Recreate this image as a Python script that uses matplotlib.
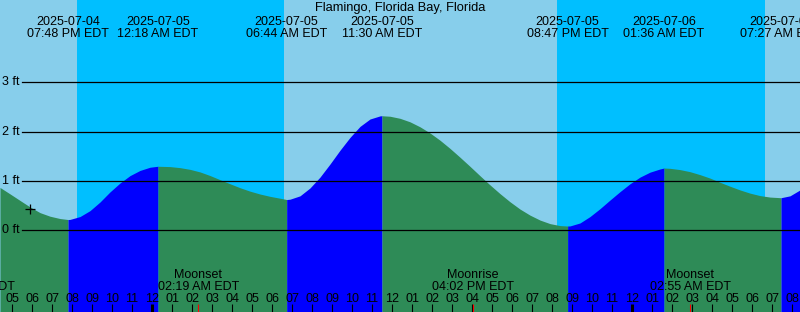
import numpy as np
import matplotlib
matplotlib.use('Agg')
import matplotlib.pyplot as plt
import matplotlib.transforms as mtransforms

# all hours counted from midnight 2025-07-05 (EDT)
station = 'Flamingo, Florida Bay, Florida'

# water level (ft), roughly every half hour
curve_hours = [-7.6, -7.1, -6.6, -6.1, -5.6, -5.1, -4.6, -4.2,
               -4.1, -3.6, -3.1, -2.6, -2.1, -1.6, -1.1, -0.6, -0.1, 0.3,
               0.9, 1.4, 1.9, 2.4, 2.9, 3.4, 3.9, 4.4, 4.9, 5.4, 5.9, 6.4, 6.733,
               6.9, 7.4, 7.9, 8.4, 8.9, 9.4, 9.9, 10.4, 10.9, 11.4, 11.5,
               11.9, 12.4, 12.9, 13.4, 13.9, 14.4, 14.9, 15.4, 15.9, 16.4, 16.9, 17.4, 17.9,
               18.4, 18.9, 19.4, 19.9, 20.4, 20.783,
               20.9, 21.4, 21.9, 22.4, 22.9, 23.4, 23.9, 24.4, 24.9, 25.4, 25.6,
               25.9, 26.4, 26.9, 27.4, 27.9, 28.4, 28.9, 29.4, 29.9, 30.4, 30.9, 31.45,
               31.9, 32.4]
curve_ft = [0.87, 0.74, 0.607, 0.475, 0.36, 0.287, 0.24, 0.22,
            0.222, 0.28, 0.40, 0.575, 0.78, 0.96, 1.11, 1.215, 1.28, 1.30,
            1.293, 1.272, 1.237, 1.185, 1.112, 1.028, 0.945, 0.865, 0.795, 0.737, 0.69, 0.652, 0.625,
            0.632, 0.70, 0.86, 1.08, 1.345, 1.625, 1.885, 2.108, 2.258, 2.321, 2.324,
            2.314, 2.272, 2.201, 2.10, 1.975, 1.828, 1.662, 1.483, 1.298, 1.108, 0.922, 0.745, 0.58,
            0.432, 0.309, 0.209, 0.137, 0.097, 0.088,
            0.09, 0.15, 0.28, 0.44, 0.615, 0.785, 0.945, 1.08, 1.18, 1.245, 1.264,
            1.258, 1.232, 1.19, 1.13, 1.06, 0.975, 0.895, 0.82, 0.755, 0.705, 0.675, 0.662,
            0.70, 0.82]

# high / low tides
tide_hours = [-4.2, 0.3, 6.733, 11.5, 20.783, 25.6, 31.45]
tide_dates = ['2025-07-04', '2025-07-05', '2025-07-05', '2025-07-05', '2025-07-05', '2025-07-06', '2025-07-06']
tide_times = ['07:48 PM EDT', '12:18 AM EDT', '06:44 AM EDT', '11:30 AM EDT', '08:47 PM EDT',
              '01:36 AM EDT', '07:27 AM EDT']

sunset_hours = [-3.75, 20.25]
sunrise_hours = [6.6, 30.65]

moon_hours = [-8.9, 2.317, 16.033, 26.917]
moon_events = ['Moonrise', 'Moonset', 'Moonrise', 'Moonset']
moon_times = ['03:06 PM EDT', '02:19 AM EDT', '04:02 PM EDT', '02:55 AM EDT']

depth_ticks = [0, 1, 2, 3]

plt.rcParams['font.family'] = ['Liberation Sans', 'DejaVu Sans']

W, H = 800, 312
x_lo, x_hi = -7.6, 32.4
y_lo, y_hi = -1.655, 4.671

fig = plt.figure(figsize=(W / 100, H / 100), dpi=100)
ax = fig.add_axes([0, 0, 1, 1])
ax.set_xlim(x_lo, x_hi)
ax.set_ylim(y_lo, y_hi)
ax.axis('off')


def fy(px):
    # pixel row from the top -> axes fraction
    return 1 - px / H


blend = mtransforms.blended_transform_factory(ax.transData, ax.transAxes)
blend_y = mtransforms.blended_transform_factory(ax.transAxes, ax.transData)

# sky: day and night
ax.axvspan(x_lo, x_hi, color='#87CEEB', lw=0, zorder=0)
for s, r in zip(sunset_hours, sunrise_hours):
    ax.axvspan(s, r, color='#00BFFF', lw=0, zorder=1)

# water: blue while rising, green while falling
t = np.array(curve_hours)
h = np.array(curve_ft)
edges = [x_lo] + tide_hours + [x_hi]
for a, b in zip(edges[:-1], edges[1:]):
    m = (t >= a - 1e-6) & (t <= b + 1e-6)
    seg_t, seg_h = t[m], h[m]
    col = 'blue' if seg_h[-1] > seg_h[0] else '#2E8B57'
    ax.fill_between(seg_t, seg_h, y_lo, color=col, lw=0, zorder=2)

# depth lines
for d in depth_ticks:
    ax.plot([x_lo + 22 / 20, x_hi], [d, d], color='black', lw=0.9, zorder=3)
    ax.text(2.5 / W, d, f'{d} ft', transform=blend_y, ha='left', va='center', fontsize=9, zorder=4)

# current time marker
ax.plot(-6.1, 0.43, marker='+', color='black', ms=7, mew=0.9, zorder=4)

# title and tide labels
ax.text(0.5, fy(11), station, transform=ax.transAxes, ha='center', va='baseline', fontsize=9.3)
for th, d, c in zip(tide_hours, tide_dates, tide_times):
    ax.text(th, fy(25), d, transform=blend, ha='center', va='baseline', fontsize=9)
    ax.text(th, fy(37), c, transform=blend, ha='center', va='baseline', fontsize=9)

# moon labels
for mh, ev, c in zip(moon_hours, moon_events, moon_times):
    ax.text(mh, fy(278), ev, transform=blend, ha='center', va='baseline', fontsize=9)
    ax.text(mh, fy(290), c, transform=blend, ha='center', va='baseline', fontsize=9)

# hour ticks
for k in range(-8, 34):
    lbl = f'{(k % 12) or 12:02d}'
    ax.text(k, fy(302), lbl, transform=blend, ha='center', va='baseline', fontsize=9)
    lw = 2.2 if k % 24 == 0 else 0.8
    ax.plot([k, k], [fy(304), 0], transform=blend, color='black', lw=lw, zorder=5, solid_capstyle='butt')
for mh in moon_hours:
    ax.plot([mh, mh], [fy(304), 0], transform=blend, color='red', lw=0.8, zorder=5, solid_capstyle='butt')

fig.savefig('out.png', dpi=100)
